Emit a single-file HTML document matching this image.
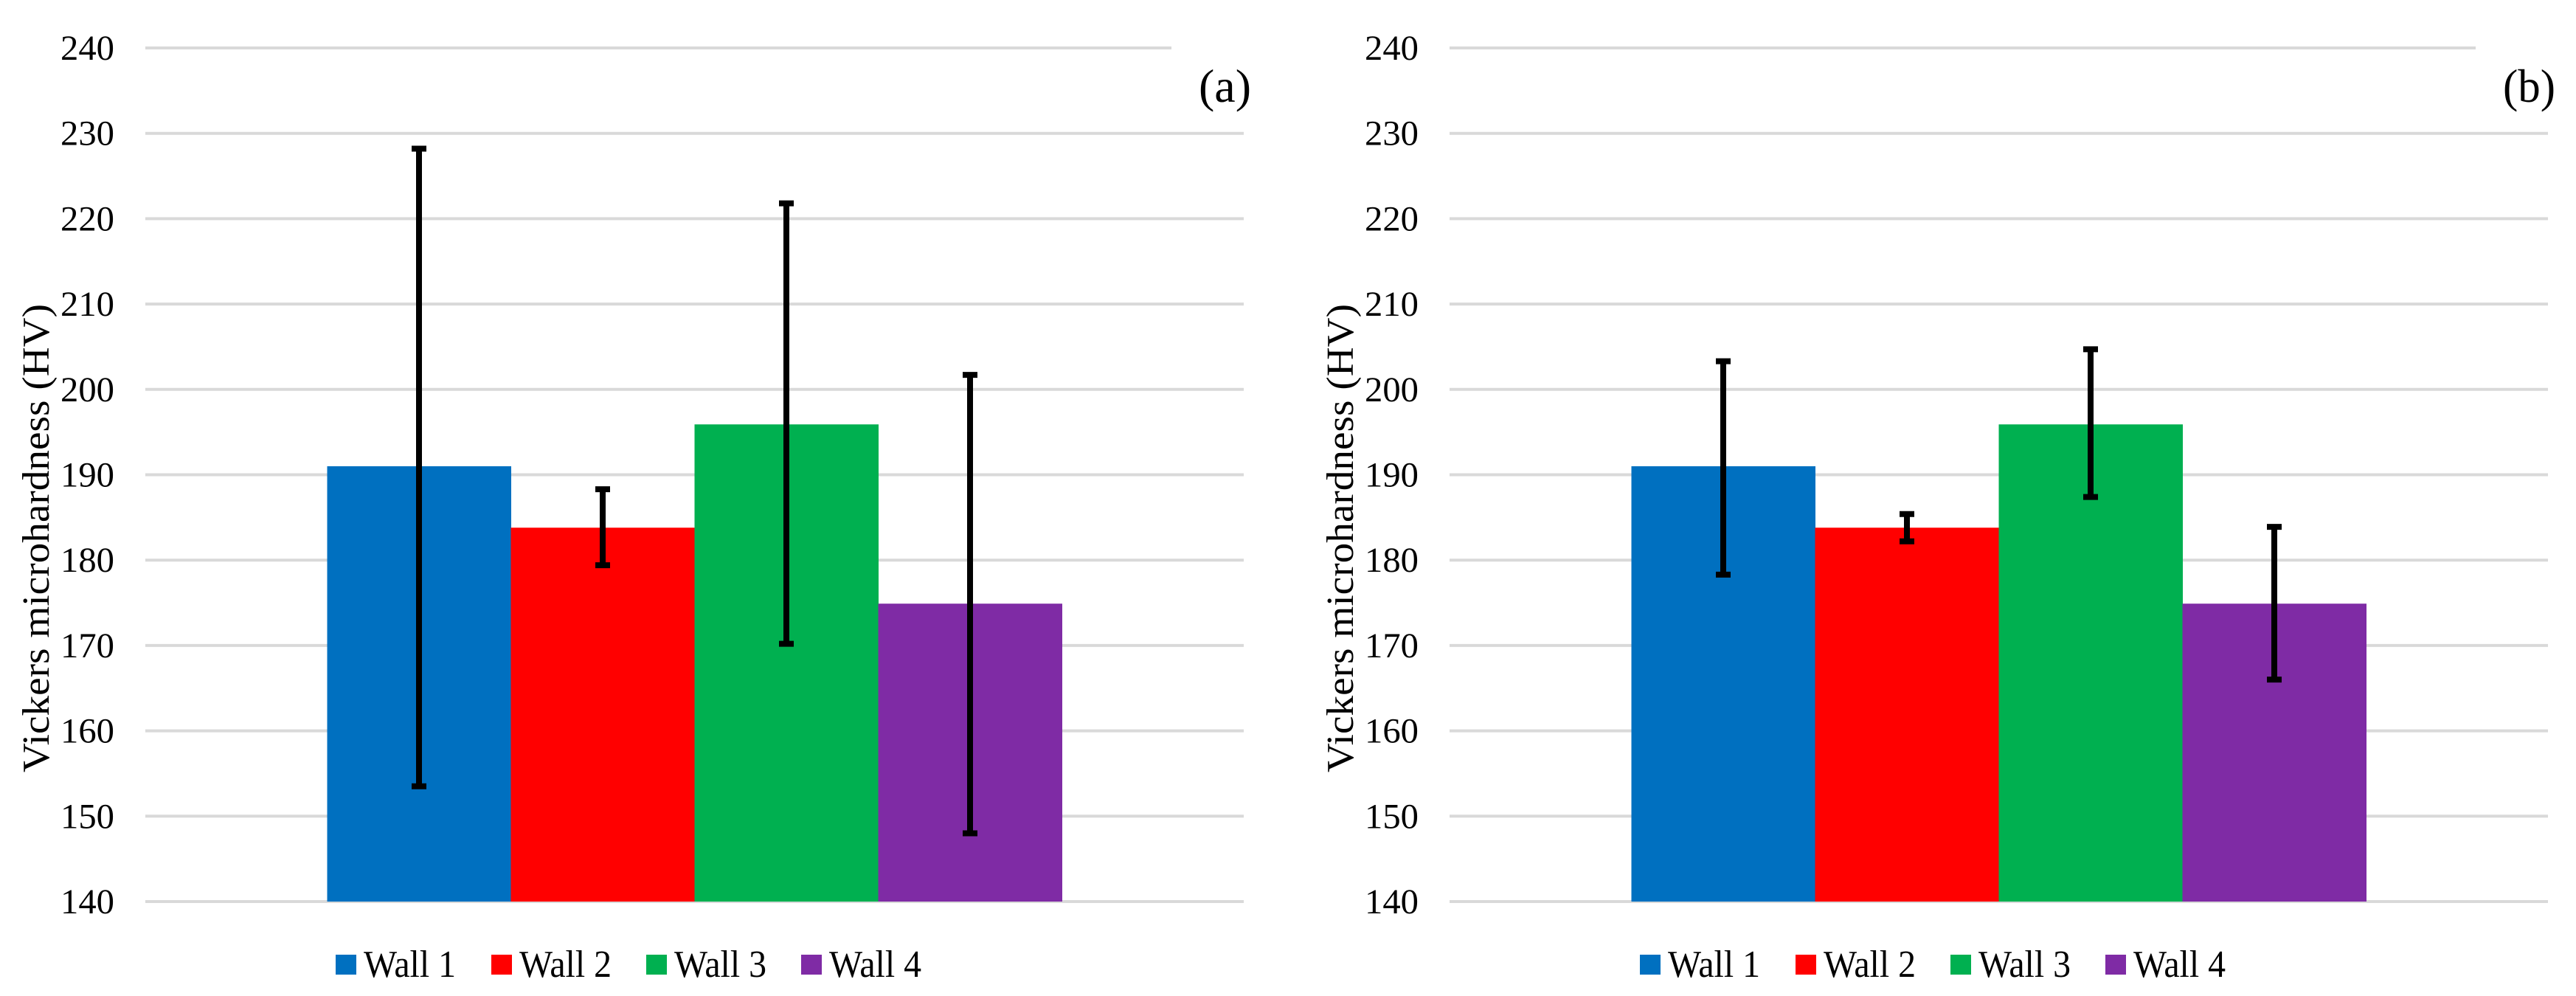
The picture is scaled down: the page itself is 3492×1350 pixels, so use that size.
<!DOCTYPE html>
<html><head><meta charset="utf-8">
<style>
html,body{margin:0;padding:0;background:#fff;}
svg{display:block;}
svg text{font-family:"Liberation Serif","DejaVu Serif",serif;}
</style></head>
<body>
<svg id="chart" width="3492" height="1350" viewBox="0 0 3492 1350" xmlns="http://www.w3.org/2000/svg" font-family="Liberation Serif, DejaVu Serif, serif"></svg>
<script>
const categories = ["Wall 1","Wall 2","Wall 3","Wall 4"];
const colors = ["#0070C0","#FF0000","#00B050","#7F2BA5"];
const meansA = [191.0, 183.8, 195.9, 174.9];
const errUpA = [228.2, 188.3, 221.8, 201.7];
const errLoA = [153.5, 179.4, 170.2, 148.0];
const meansB = [191.0, 183.8, 195.9, 174.9];
const errUpB = [203.3, 185.4, 204.7, 183.9];
const errLoB = [178.3, 182.2, 187.4, 166.0];
const yTicks = [140,150,160,170,180,190,200,210,220,230,240];
const panelLabels = ["(a)","(b)"];

const NS = "http://www.w3.org/2000/svg";
const svg = document.getElementById("chart");
const FF = "Liberation Serif, DejaVu Serif, serif";
function mk(tag, attrs, parent){
  const e = document.createElementNS(NS, tag);
  for (const k in attrs) e.setAttribute(k, attrs[k]);
  if (tag === "text") { e.setAttribute("font-family", FF); if (attrs.textLength) e.setAttribute("lengthAdjust", "spacingAndGlyphs"); }
  (parent||svg).appendChild(e);
  return e;
}
const Y0 = 1222, Y1 = 65, VMIN = 140, VMAX = 240;
function yScale(v){ return Y0 - (v - VMIN) / (VMAX - VMIN) * (Y0 - Y1); }

function drawPanel(idx, offset, means, up, lo){
  const g = mk("g", {});
  
  
  const px0 = 197 + offset, px1 = 1686 + offset;
  yTicks.forEach(t => {
    const y = yScale(t);
    const end = (t === 240) ? 1588 + offset : px1;
    const ln = mk("line", {x1:px0, x2:end, y1:y, y2:y, stroke:"#d9d9d9", "stroke-width":4}, g);
    
    
    const tx = mk("text", {x:82 + offset, y:y + 16, "font-size":48, textLength:73, fill:"#000"}, g);
    tx.textContent = t;
    
    
  });
  const title = mk("text", {x:-317, y:0, "font-size":52, textLength:635, fill:"#000",
    transform:"translate(" + (66 + offset) + ",730) rotate(-90)"}, g);
  title.textContent = "Vickers microhardness (HV)";
  
  

  const center = (px0 + px1) / 2, bw = 249;
  const gx0 = center - bw * categories.length / 2;
  categories.forEach((c, i) => {
    const x = gx0 + i * bw;
    const yt = yScale(means[i]);
    const r = mk("rect", {x:x, y:yt, width:bw + 0.5, height:Y0 - yt, fill:colors[i]}, g);
    
    
  });
  categories.forEach((c, i) => {
    const cx = gx0 + i * bw + bw / 2;
    const yu = yScale(up[i]), yl = yScale(lo[i]);
    const eg = mk("g", {stroke:"#000", "stroke-width":8}, g);
    
    
    mk("line", {x1:cx, x2:cx, y1:yu, y2:yl}, eg);
    mk("line", {x1:cx - 10, x2:cx + 10, y1:yu, y2:yu}, eg);
    mk("line", {x1:cx - 10, x2:cx + 10, y1:yl, y2:yl}, eg);
  });
  const pl = mk("text", {x:1625 + offset, y:138, "font-size":64, textLength:71, fill:"#000"}, g);
  pl.textContent = panelLabels[idx];
  
  

  const lg = mk("g", {}, g);
  
  
  const lx = [455, 666, 876, 1086];
  categories.forEach((c, i) => {
    const eg = mk("g", {}, lg);
    
    
    mk("rect", {x:lx[i] + offset, y:1294, width:28, height:27, fill:colors[i]}, eg);
    const t = mk("text", {x:lx[i] + 38 + offset, y:1324, "font-size":52, textLength:125, fill:"#000"}, eg);
    t.textContent = c;
  });
}
drawPanel(0, 0, meansA, errUpA, errLoA);
drawPanel(1, 1768, meansB, errUpB, errLoB);
</script>
</body></html>
